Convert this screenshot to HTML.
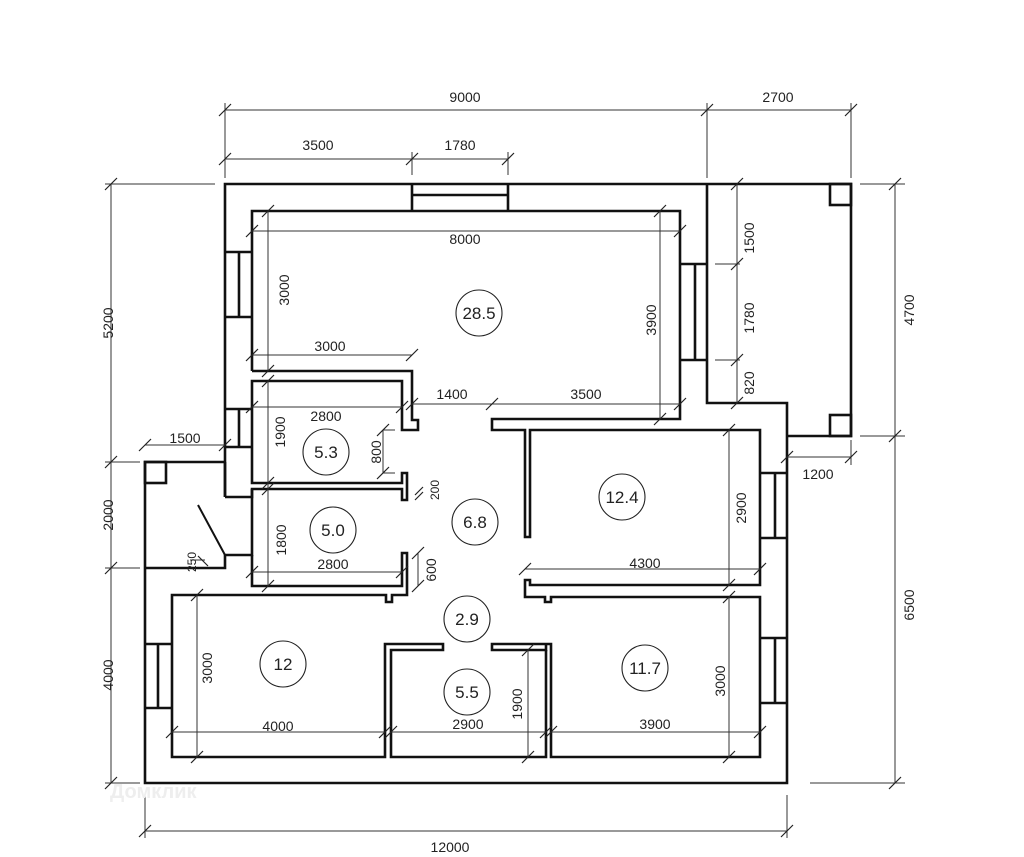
<!DOCTYPE html>
<html><head><meta charset="utf-8"><style>
html,body{margin:0;padding:0;background:#fff;width:1024px;height:857px;overflow:hidden}
svg{display:block}
text{font-family:"Liberation Sans",sans-serif;font-size:14px;fill:#222}
.w{fill:none;stroke:#111;stroke-width:2.6;stroke-linejoin:miter}
.d{fill:none;stroke:#333;stroke-width:1}
.t{fill:none;stroke:#222;stroke-width:1.2}
.c{fill:none;stroke:#222;stroke-width:1.1}
.cl{font-size:17px;text-anchor:middle}
.m{text-anchor:middle}
</style></head><body>
<svg width="1024" height="857" viewBox="0 0 1024 857" xmlns="http://www.w3.org/2000/svg">
<g class="w">
<path d="M225,497 L225,184 L851,184 L851,436 L787,436"/>
<path d="M707,184 L707,403 L787,403 L787,783 L145,783 L145,462 L225,462"/>
<rect x="830" y="184" width="21" height="21"/>
<rect x="830" y="415" width="21" height="21"/>
<path d="M252,371 L252,211 L680,211 L680,419 L492,419 L492,430 L525,430 L525,537 L530,537 L530,430 L760,430 L760,585 L530,585 L530,580 L525,580 L525,597 L545,597 L545,602 L551,602 L551,597 L760,597 L760,757 L551,757 L551,644 L546,644 L546,650 L492,650 L492,644 L546,644"/>
<path d="M546,650 L546,757 L391,757 L391,650 L443,650 L443,644 L385,644 L385,757 L172,757 L172,595 L386,595 L386,602 L392,602 L392,595 L407,595 L407,553 L402,553 L402,586 L252,586 L252,555"/>
<path d="M252,371 L412,371 L412,420 L418,420 L418,430 L402,430 L402,381 L252,381 L252,483 L402,483 L402,473 L407,473 L407,500 L402,500 L402,489 L252,489 L252,497 L225,497"/>
<path d="M412,184 L412,211 M508,184 L508,211 M412,195 L508,195"/>
<path d="M225,252 L252,252 M225,317 L252,317 M239,252 L239,317"/>
<path d="M225,409 L252,409 M225,447 L252,447 M239,409 L239,447"/>
<path d="M680,264 L707,264 M680,360 L707,360 M695,264 L695,360"/>
<rect x="145" y="462" width="21" height="21"/>
<path d="M225,462 L225,497"/>
<path d="M145,568 L225,568 L225,555 L252,555 L252,489"/>
<path d="M198,505 L225,555" style="stroke-width:2"/>
<path d="M145,644 L172,644 M145,708 L172,708 M158,644 L158,708"/>
<path d="M760,473 L787,473 M760,538 L787,538 M775,473 L775,538"/>
<path d="M760,638 L787,638 M760,703 L787,703 M775,638 L775,703"/>
</g>
<g class="d">
<path d="M225,110 L851,110 M225,159 L508,159 M225,103 L225,178 M707,103 L707,178 M851,103 L851,178 M412,152 L412,175 M508,152 L508,175"/>
<path d="M111,184 L111,783 M105,184 L215,184 M105,462 L140,462 M105,568 L140,568 M105,783 L140,783"/>
<path d="M895,184 L895,783 M860,184 L905,184 M860,436 L905,436 M810,783 L905,783"/>
<path d="M145,831 L787,831 M145,795 L145,838 M787,795 L787,838"/>
<path d="M252,231 L680,231 M268,211 L268,371 M252,355 L412,355 M660,211 L660,419 M412,404 L680,404"/>
<path d="M252,407 L402,407 M268,381 L268,489 M383,430 L383,473 M383,430 L395,430 M383,473 L395,473"/>
<path d="M268,489 L268,586 M252,572 L402,572 M418,553 L418,586 M145,445 L225,445"/>
<path d="M729,430 L729,585 M525,569 L760,569 M729,597 L729,757 M551,732 L760,732 M528,650 L528,757 M391,732 L546,732 M197,595 L197,757 M172,732 L385,732"/>
<path d="M737,184 L737,403 M715,264 L740,264 M715,360 L740,360 M787,457 L851,457 M851,440 L851,465"/>
<path d="M190,560 L205,560"/>
</g>
<g class="t">
<path d="M219,116L231,104 M701,116L713,104 M845,116L857,104 M219,165L231,153 M406,165L418,153 M502,165L514,153"/>
<path d="M105,190L117,178 M105,468L117,456 M105,574L117,562 M105,789L117,777"/>
<path d="M889,190L901,178 M889,442L901,430 M889,789L901,777"/>
<path d="M139,837L151,825 M781,837L793,825"/>
<path d="M246,237L258,225 M674,237L686,225 M262,217L274,205 M262,377L274,365 M246,361L258,349 M406,361L418,349 M654,217L666,205 M654,425L666,413 M406,410L418,398 M486,410L498,398 M674,410L686,398"/>
<path d="M246,413L258,401 M396,413L408,401 M262,387L274,375 M262,489L274,477 M377,436L389,424 M377,479L389,467"/>
<path d="M262,495L274,483 M262,592L274,580 M246,578L258,566 M396,578L408,566 M412,559L424,547 M412,592L424,580 M139,451L151,439 M219,451L231,439"/>
<path d="M723,436L735,424 M723,591L735,579 M519,575L531,563 M754,575L766,563 M723,603L735,591 M723,763L735,751 M545,738L557,726 M754,738L766,726 M522,656L534,644 M522,763L534,751 M385,738L397,726 M540,738L552,726 M191,601L203,589 M191,763L203,751 M166,738L178,726 M379,738L391,726"/>
<path d="M731,190L743,178 M731,270L743,258 M731,366L743,354 M731,409L743,397 M781,463L793,451 M845,463L857,451"/>
<path d="M415,495L423,487 M415,500L423,492 M198,556L208,566"/>
</g>
<text x="465" y="102" class="m">9000</text>
<text x="778" y="102" class="m">2700</text>
<text x="318" y="150" class="m">3500</text>
<text x="460" y="150" class="m">1780</text>
<text x="450" y="852" class="m">12000</text>
<text x="465" y="244" class="m">8000</text>
<text x="330" y="351" class="m">3000</text>
<text x="452" y="399" class="m">1400</text>
<text x="586" y="399" class="m">3500</text>
<text x="326" y="421" class="m">2800</text>
<text x="185" y="443" class="m">1500</text>
<text x="333" y="569" class="m">2800</text>
<text x="645" y="568" class="m">4300</text>
<text x="278" y="731" class="m">4000</text>
<text x="468" y="729" class="m">2900</text>
<text x="655" y="729" class="m">3900</text>
<text x="818" y="479" class="m">1200</text>
<g class="m">
<text transform="translate(113,323) rotate(-90)">5200</text>
<text transform="translate(113,515) rotate(-90)">2000</text>
<text transform="translate(113,675) rotate(-90)">4000</text>
<text transform="translate(914,310) rotate(-90)">4700</text>
<text transform="translate(914,605) rotate(-90)">6500</text>
<text transform="translate(289,290) rotate(-90)">3000</text>
<text transform="translate(656,320) rotate(-90)">3900</text>
<text transform="translate(285,432) rotate(-90)">1900</text>
<text transform="translate(381,452) rotate(-90)">800</text>
<text transform="translate(439,490) rotate(-90)" style="font-size:12px">200</text>
<text transform="translate(286,540) rotate(-90)">1800</text>
<text transform="translate(196,562) rotate(-90)" style="font-size:12px">250</text>
<text transform="translate(436,570) rotate(-90)">600</text>
<text transform="translate(746,508) rotate(-90)">2900</text>
<text transform="translate(725,681) rotate(-90)">3000</text>
<text transform="translate(522,704) rotate(-90)">1900</text>
<text transform="translate(212,668) rotate(-90)">3000</text>
<text transform="translate(754,238) rotate(-90)">1500</text>
<text transform="translate(754,318) rotate(-90)">1780</text>
<text transform="translate(754,383) rotate(-90)">820</text>
</g>
<g class="c">
<circle cx="479" cy="313" r="23"/><circle cx="326" cy="452" r="23"/><circle cx="333" cy="530" r="23"/>
<circle cx="475" cy="522" r="23"/><circle cx="622" cy="497" r="23"/><circle cx="467" cy="619" r="23"/>
<circle cx="283" cy="664" r="23"/><circle cx="467" cy="692" r="23"/><circle cx="645" cy="668" r="23"/>
</g>
<text x="479" y="319" class="cl">28.5</text>
<text x="326" y="458" class="cl">5.3</text>
<text x="333" y="536" class="cl">5.0</text>
<text x="475" y="528" class="cl">6.8</text>
<text x="622" y="503" class="cl">12.4</text>
<text x="467" y="625" class="cl">2.9</text>
<text x="283" y="670" class="cl">12</text>
<text x="467" y="698" class="cl">5.5</text>
<text x="645" y="674" class="cl">11.7</text>
<text x="110" y="798" style="font-size:20px;fill:#eeeeee;font-weight:bold">Домклик</text>
</svg>
</body></html>
